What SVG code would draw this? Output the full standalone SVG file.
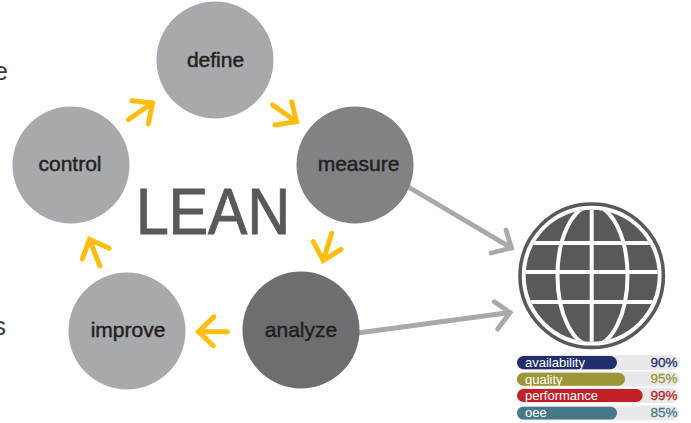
<svg xmlns="http://www.w3.org/2000/svg" width="691" height="423" viewBox="0 0 691 423">
<style>
text{font-family:"Liberation Sans",Arial,sans-serif}
.node{font-size:21px;fill:#231f20;stroke:#231f20;stroke-width:.45px;text-anchor:middle}
.y{fill:none;stroke:#ffbe0f;stroke-width:5;stroke-linecap:round;stroke-linejoin:miter}
.g{fill:none;stroke:#a7a9ac;stroke-width:4.8;stroke-linecap:round;stroke-linejoin:miter}
.w{fill:none;stroke:#fff;stroke-width:4}
.track{fill:#e9e9eb}
.lab{font-size:13px;fill:#fff}
.pct{font-size:13.5px;text-anchor:end;stroke-width:.3px}
.cut{font-size:26px;fill:#3a3a3c;text-anchor:end}
</style>
<defs><clipPath id="disc"><circle cx="591.7" cy="275.7" r="66"/></clipPath></defs>
<text class="cut" x="8" y="80">e</text>
<text class="cut" x="6" y="335">s</text>
<g id="connectors">
<path class="y" d="M128.5 119.5L152.5 103M132 100.7L152.5 103L148.3 124"/>
<path class="y" d="M272.7 105L296.5 121.7M291.7 101.7L296.5 121.7L275 125"/>
<path class="y" d="M331.7 233.3L323.3 260.5M313.3 241.7L323.3 260.5L341 249.3"/>
<path class="y" d="M227.3 331.7L198.5 331.7M214 316.7L198.5 331.7L213.3 345.7"/>
<path class="y" d="M100 266L89.5 239.5M109 248.3L89.5 239.5L82.3 259"/>
<path class="g" d="M405 185L511.5 248M506 230L511.5 248L491 253"/>
<path class="g" d="M358 333L510 312.5M494.3 301.7L510 312.5L497.7 329"/>
</g>
<g id="define"><circle cx="215" cy="60" r="58.5" fill="#a7a9ac"/><text class="node" x="215.5" y="66.5">define</text></g>
<g id="measure"><circle cx="355" cy="165" r="58.5" fill="#808285"/><text class="node" x="358.5" y="171">measure</text></g>
<g id="analyze"><circle cx="301" cy="330" r="58.5" fill="#6d6e71"/><text class="node" x="301" y="336.5">analyze</text></g>
<g id="improve"><circle cx="127" cy="331" r="58.5" fill="#a7a9ac"/><text class="node" x="128" y="337">improve</text></g>
<g id="control"><circle cx="71" cy="165" r="58.5" fill="#a7a9ac"/><text class="node" x="70" y="171">control</text></g>
<text id="lean" x="136" y="234" font-size="64" fill="#58595b" stroke="#58595b" stroke-width="1" textLength="154" lengthAdjust="spacingAndGlyphs">LEAN</text>
<g id="globe">
<circle cx="591.7" cy="275.7" r="71.7" fill="none" stroke="#58595b" stroke-width="3.6"/>
<circle cx="591.7" cy="275.7" r="66" fill="#58595b"/>
<g clip-path="url(#disc)">
<path class="w" d="M591.7 205V346M520 243H664M520 272H664M520 302H664"/>
<ellipse class="w" cx="592.5" cy="275.7" rx="35" ry="70"/>
</g>
</g>
<g id="bars">
<rect class="track" x="517" y="355" width="162" height="15" rx="7.5"/>
<rect class="track" x="517" y="371.5" width="162" height="15" rx="7.5"/>
<rect class="track" x="517" y="388" width="162" height="15" rx="7.5"/>
<rect class="track" x="517" y="405.5" width="162" height="15" rx="7.5"/>
<rect x="517" y="356" width="100" height="13.3" rx="6.6" fill="#1f2f6e"/>
<rect x="517" y="372.7" width="108" height="13" rx="6.5" fill="#9c9636"/>
<rect x="517" y="389" width="125.7" height="13" rx="6.5" fill="#c12026"/>
<rect x="517" y="406.7" width="100" height="12.8" rx="6.4" fill="#467889"/>
<text class="lab" x="525" y="367">availability</text>
<text class="lab" x="525" y="383.5">quality</text>
<text class="lab" x="525" y="400">performance</text>
<text class="lab" x="525" y="417">oee</text>
<text class="pct" x="677.5" y="367" fill="#1f2f6e" stroke="#1f2f6e">90%</text>
<text class="pct" x="677.5" y="383" fill="#9c9636" stroke="#9c9636">95%</text>
<text class="pct" x="677.5" y="400" fill="#c12026" stroke="#c12026">99%</text>
<text class="pct" x="677.5" y="417" fill="#467889" stroke="#467889">85%</text>
</g>
</svg>
